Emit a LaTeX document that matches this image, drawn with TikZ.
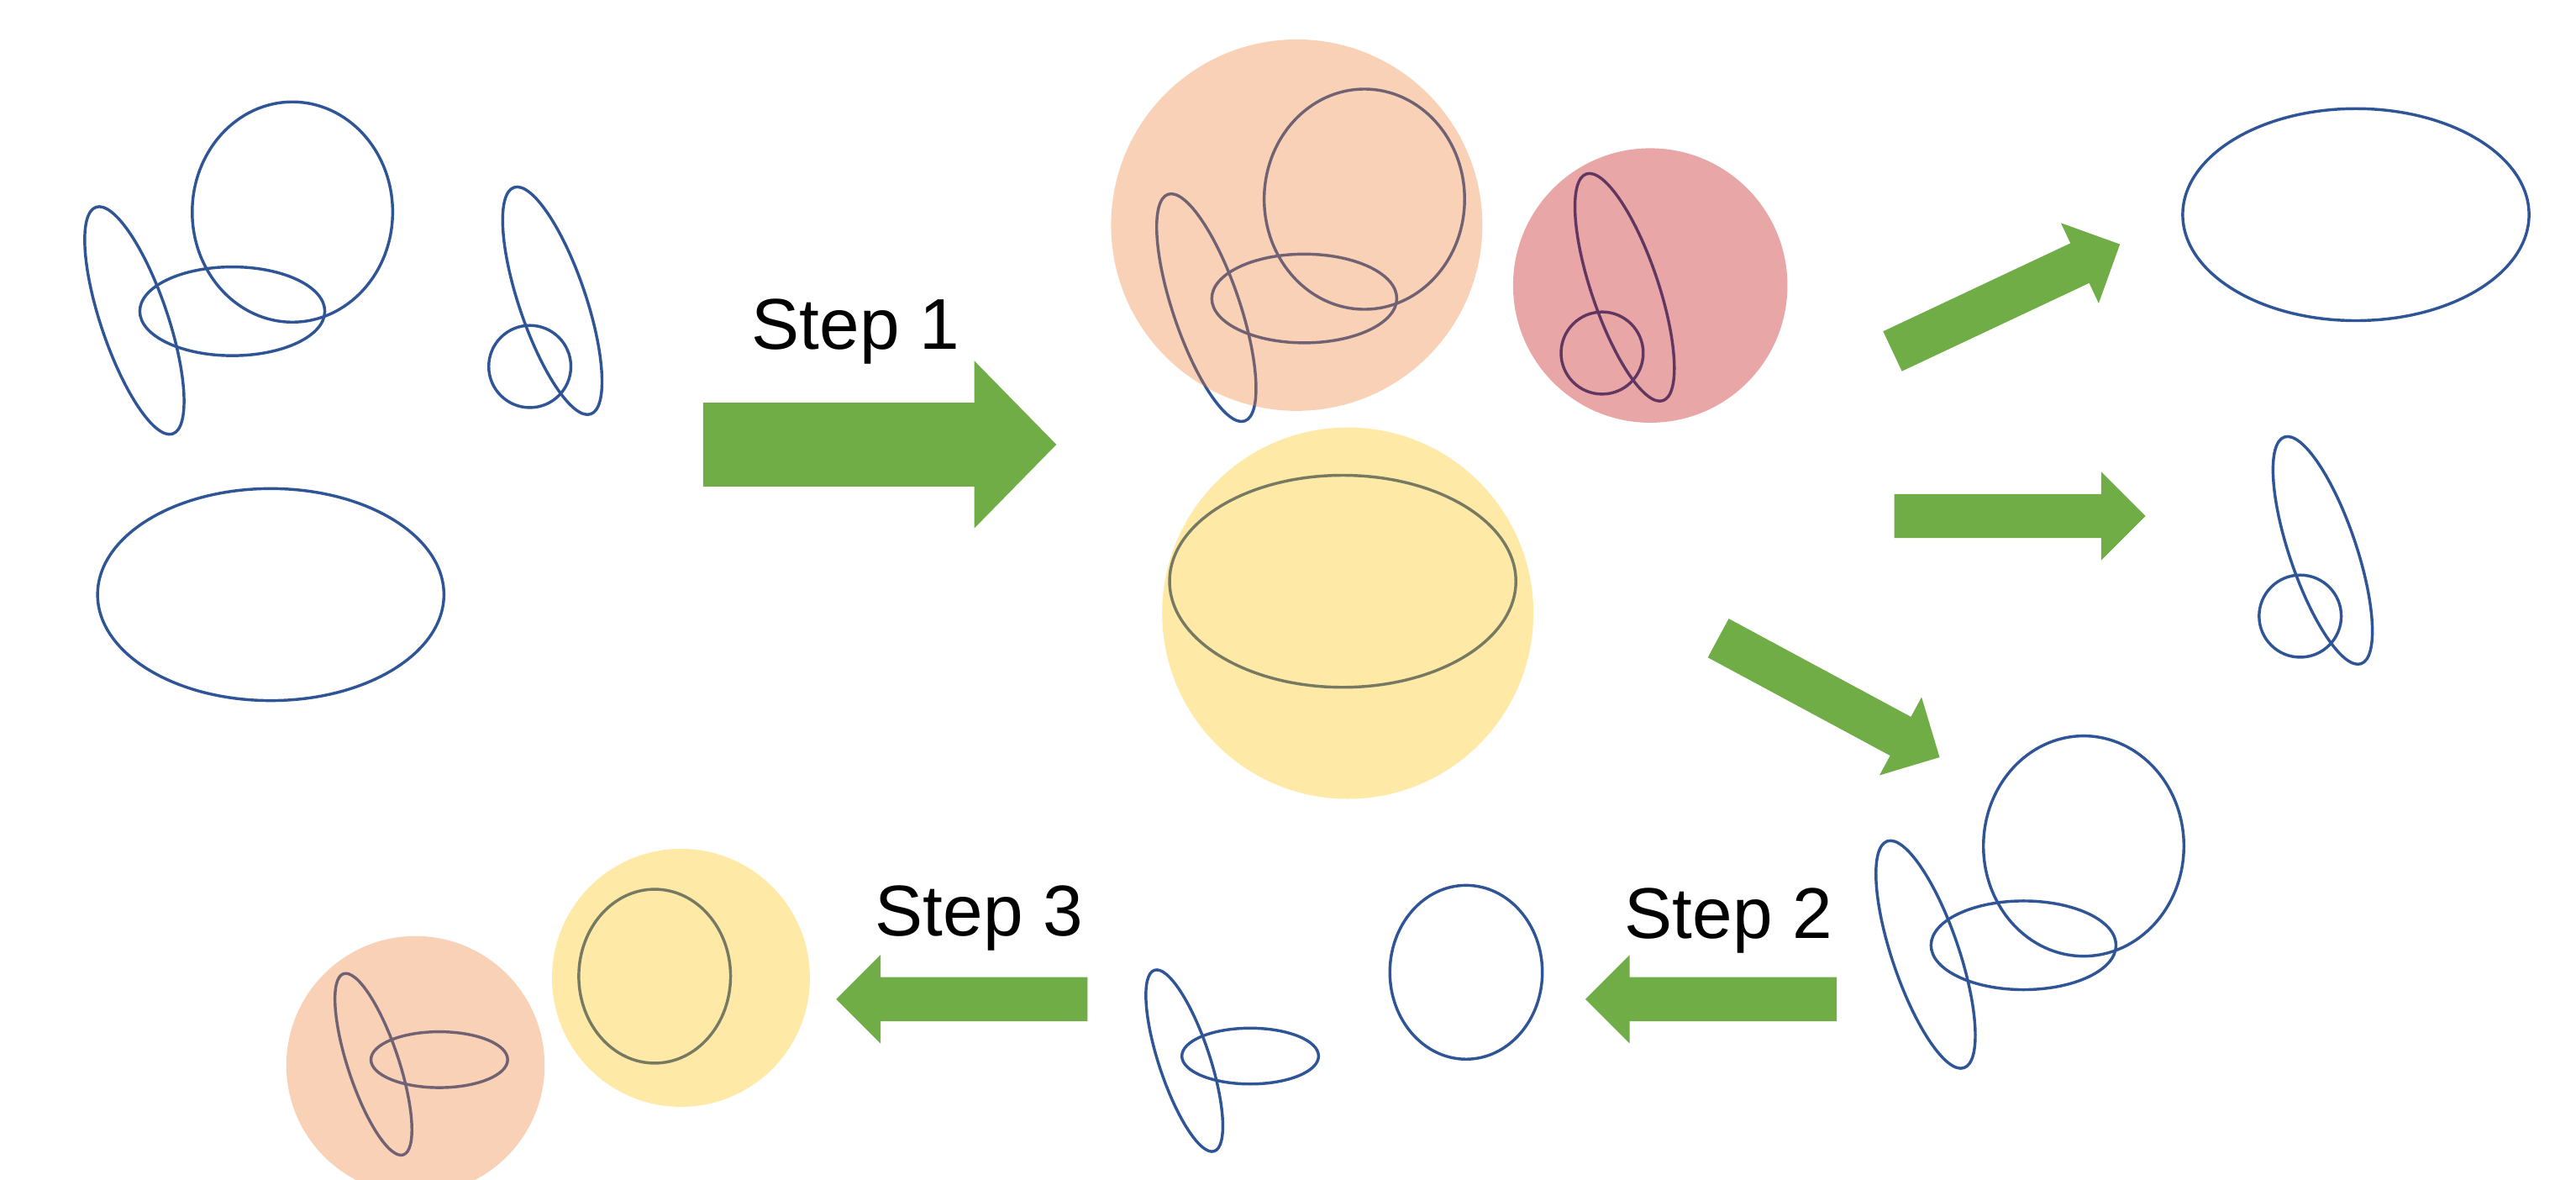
\documentclass[tikz,border=0pt]{standalone}
\usepackage{fontspec}
\setmainfont{Liberation Sans}
\definecolor{eblue}{HTML}{2F5597}
\definecolor{agreen}{HTML}{70AD47}
\definecolor{tintorange}{HTML}{ED7D31}
\definecolor{tintyellow}{HTML}{FFC000}
\definecolor{tintred}{HTML}{C00000}
\tikzset{
  outline/.style={draw=eblue, line width=1pt},
  tint/.style={fill=#1, fill opacity=0.35, draw=none},
  steplabel/.style={font=\fontsize{24.9}{30}\selectfont, inner sep=0pt, anchor=base west, text=black},
}
% group of circle + flat ellipse + tilted ellipse (reference point: circle centre)
\newcommand\groupRing[2]{\begin{scope}[shift={(#1,#2)}]
  \draw[outline] (0,0) ellipse [x radius=61, y radius=67];
  \draw[outline] (-36.6,60.4) ellipse [x radius=56.3, y radius=27];
  \draw[outline, rotate around={18.7:(-96.2,66)}] (-96.2,66) ellipse [x radius=20.3, y radius=72.8];
\end{scope}}
% small circle + tilted ellipse (reference point: small circle centre)
\newcommand\groupLoop[2]{\begin{scope}[shift={(#1,#2)}]
  \draw[outline] (0,0) circle [radius=25];
  \draw[outline, rotate around={18.7:(13.7,-40)}] (13.7,-40) ellipse [x radius=20.3, y radius=72.8];
\end{scope}}
% big flat ellipse
\newcommand\groupFlat[2]{\draw[outline] (#1,#2) ellipse [x radius=105.4, y radius=64.5];}
% small tilted pair (reference: tilted ellipse centre)
\newcommand\groupPair[2]{\begin{scope}[shift={(#1,#2)}]
  \draw[outline, rotate around={18.3:(0,0)}] (0,0) ellipse [x radius=15.5, y radius=58];
  \draw[outline] (40.1,-2.8) ellipse [x radius=41.6, y radius=17];
\end{scope}}
% block arrow: x y angle length bodyhalf headhalf headlength
\newcommand\greenarrow[7]{%
  \fill[agreen, shift={(#1,#2)}, rotate=#3] (0,-#5) -- ({#4-#7},-#5) -- ({#4-#7},-#6) -- (#4,0) -- ({#4-#7},#6) -- ({#4-#7},#5) -- (0,#5) -- cycle;}
\begin{document}
\begin{tikzpicture}[x=0.02cm, y=-0.02cm]
\fill[white] (0,0) rectangle (1568,718);
\useasboundingbox (0,0) rectangle (1568,718);
% --- left: input shapes
\groupRing{178}{129}
\groupLoop{322.5}{223}
\groupFlat{164.8}{361.8}
% --- middle: clustered shapes
\groupRing{830.5}{121.2}
\groupLoop{975.2}{214.8}
\groupFlat{817.3}{353.7}
\fill[tint=tintorange] (789.3,137) circle [radius=113];
\fill[tint=tintred] (1004.5,173.7) circle [radius=83.5];
\fill[tint=tintyellow] (820.4,373.1) circle [radius=113];
% --- right: separated shapes
\groupFlat{1434}{130.6}
\groupLoop{1400.1}{374.9}
\groupRing{1268.3}{514.8}
% --- bottom row
\draw[outline] (892.4,591.6) ellipse [x radius=46.4, y radius=52.9];
\groupPair{720.9}{645.4}
\draw[outline] (398.5,594) ellipse [x radius=46.2, y radius=52.9];
\groupPair{227.3}{647.6}
\fill[tint=tintyellow] (414.5,595) circle [radius=78.5];
\fill[tint=tintorange] (252.9,648.2) circle [radius=78.6];
% --- arrows
\greenarrow{428}{270.5}{0}{215}{25.5}{51}{50}
\greenarrow{1151.95}{213.75}{25.2}{153}{13.4}{27}{27}
\greenarrow{1153}{314}{0}{153}{13.4}{27}{27}
\greenarrow{1045.9}{388.25}{-28.3}{153}{13.4}{27}{27}
\greenarrow{1118}{608}{180}{153}{13.4}{27}{27}
\greenarrow{662}{608}{180}{153}{13.4}{27}{27}
% --- labels
\node[steplabel] (step1) at (457.3,212.3) {Step 1};
\node[steplabel] (step2) at (988.6,570.8) {Step 2};
\node[steplabel] (step3) at (532.5,569.2) {Step 3};
\end{tikzpicture}
\end{document}
